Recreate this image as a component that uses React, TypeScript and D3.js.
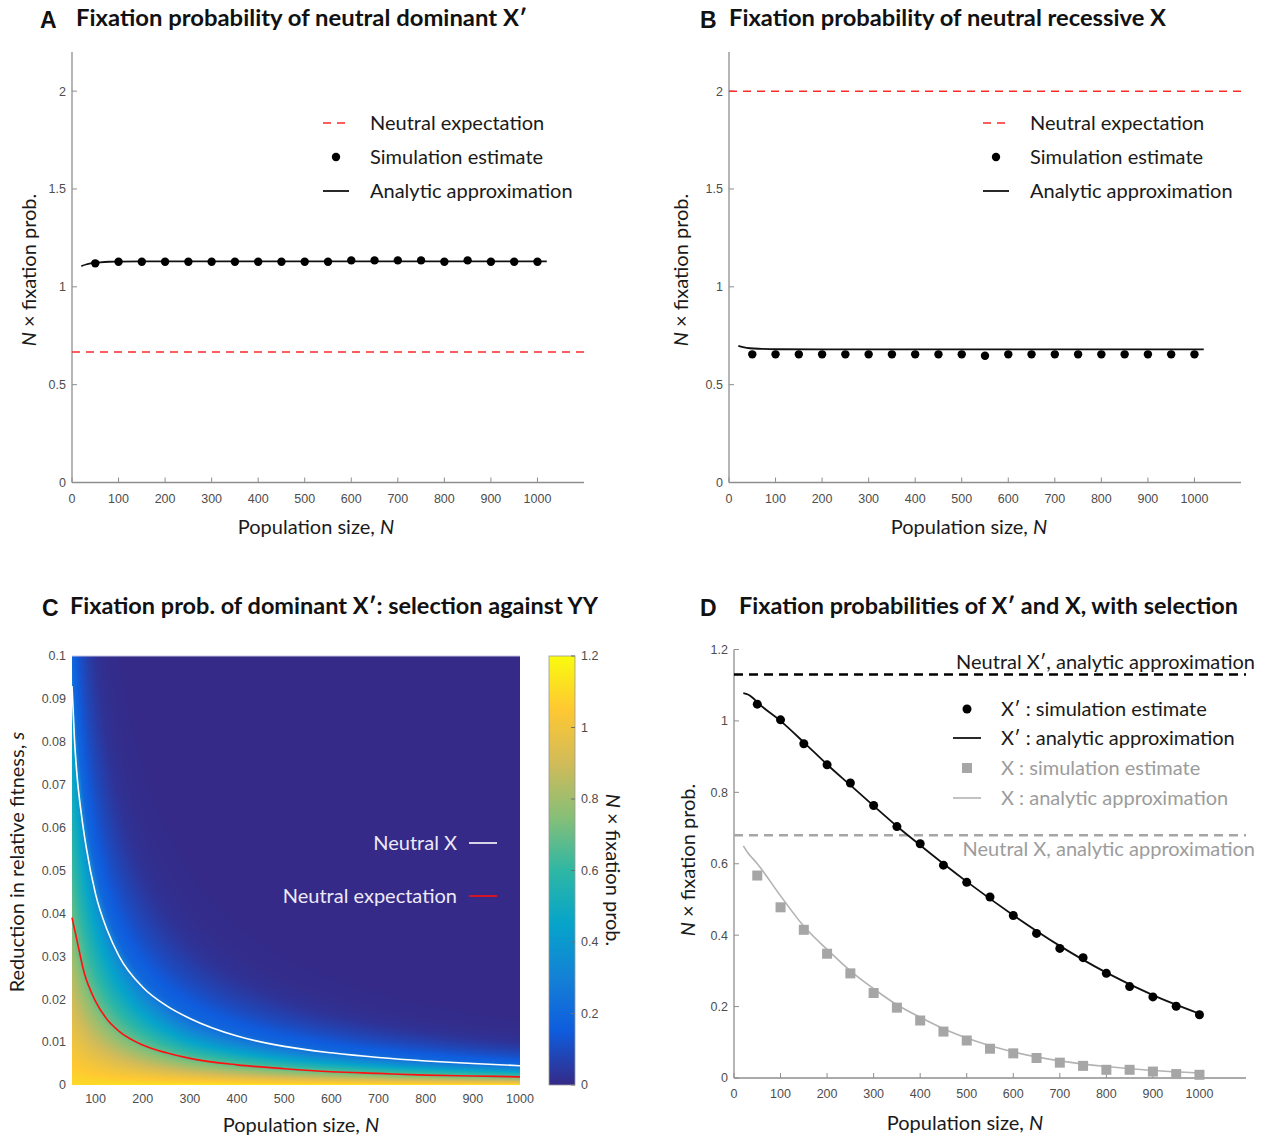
import { useEffect, useRef } from "react";
import * as d3 from "d3";

// population sizes where the simulations were run
const popSizes = [50, 100, 150, 200, 250, 300, 350, 400, 450, 500, 550, 600, 650, 700, 750, 800, 850, 900, 950, 1000];

// A: neutral dominant X'
const aSimEstimate = [1.12, 1.128, 1.128, 1.128, 1.128, 1.128, 1.128, 1.128, 1.128, 1.128, 1.128, 1.135, 1.135, 1.135, 1.135, 1.128, 1.135, 1.128, 1.128, 1.128];
const aApproxN = [20, 30, 40, 60, 80, 100, 150, 300, 1020];
const aApproxValue = [1.106, 1.114, 1.12, 1.125, 1.128, 1.129, 1.13, 1.13, 1.13];
const aNeutral = 0.667;

// B: neutral recessive X
const bSimEstimate = [0.655, 0.655, 0.655, 0.655, 0.655, 0.655, 0.655, 0.655, 0.655, 0.655, 0.648, 0.655, 0.655, 0.655, 0.655, 0.655, 0.655, 0.655, 0.655, 0.655];
const bApproxN = [20, 30, 45, 70, 100, 200, 1020];
const bApproxValue = [0.698, 0.692, 0.686, 0.683, 0.681, 0.68, 0.68];
const bNeutral = 2;

// C: colour value (N x fixation prob.) read against N*s, at small N and at large N
const heatNs = [0, 0.25, 0.5, 1, 1.5, 2, 2.5, 3, 3.5, 4, 4.5, 5, 6, 7, 8, 9, 10, 12, 16];
const heatValueSmallN = [1.1, 1.05, 1.0, 0.9, 0.8, 0.7, 0.63, 0.56, 0.5, 0.44, 0.36, 0.2, 0.14, 0.1, 0.07, 0.045, 0.025, 0.01, 0];
const heatValueLargeN = [1.13, 1.06, 1.0, 0.878, 0.762, 0.652, 0.55, 0.456, 0.37, 0.295, 0.232, 0.18, 0.14, 0.1, 0.07, 0.045, 0.025, 0.01, 0];
const heatBlendN = [50, 300];
// contours drawn on top of the heat map
const neutralXN = [50, 55, 60, 70, 80, 100, 125, 150, 200, 250, 300, 400, 500, 600, 700, 800, 900, 1000];
const neutralXS = [0.093, 0.081, 0.073, 0.063, 0.0555, 0.0445, 0.036, 0.03, 0.0228, 0.0185, 0.0155, 0.0114, 0.009, 0.0075, 0.0064, 0.0056, 0.005, 0.0045];
const neutralExpN = [50, 60, 75, 100, 125, 150, 200, 250, 300, 400, 500, 600, 700, 800, 900, 1000];
const neutralExpS = [0.039, 0.034, 0.0265, 0.0195, 0.0152, 0.0125, 0.0093, 0.0075, 0.0062, 0.0047, 0.0038, 0.0031, 0.0027, 0.0023, 0.0021, 0.0019];

// D: with selection
const dXpSim = [1.047, 1.003, 0.936, 0.877, 0.826, 0.763, 0.704, 0.656, 0.596, 0.548, 0.507, 0.455, 0.405, 0.363, 0.337, 0.293, 0.256, 0.227, 0.201, 0.177];
const dXSim = [0.567, 0.478, 0.415, 0.348, 0.293, 0.238, 0.197, 0.161, 0.13, 0.105, 0.082, 0.069, 0.056, 0.043, 0.034, 0.023, 0.023, 0.018, 0.011, 0.009];
const dApproxN = [20, 30, 40, 50, 100, 150, 200, 250, 300, 350, 400, 450, 500, 600, 700, 800, 900, 1000];
const dXpApprox = [1.078, 1.074, 1.065, 1.052, 1.0, 0.94, 0.878, 0.82, 0.762, 0.705, 0.652, 0.6, 0.55, 0.456, 0.37, 0.295, 0.232, 0.18];
const dXApprox = [0.65, 0.63, 0.615, 0.6, 0.51, 0.425, 0.36, 0.3, 0.25, 0.205, 0.17, 0.138, 0.112, 0.073, 0.048, 0.032, 0.021, 0.014];
const dNeutralXp = 1.13;
const dNeutralX = 0.68;

// tick values
const popTicks = [0, 100, 200, 300, 400, 500, 600, 700, 800, 900, 1000];
const popTicksC = [100, 200, 300, 400, 500, 600, 700, 800, 900, 1000];
const abTicks = [0, 0.5, 1, 1.5, 2];
const cTicks = [0, 0.01, 0.02, 0.03, 0.04, 0.05, 0.06, 0.07, 0.08, 0.09, 0.1];
const cbTicks = [0, 0.2, 0.4, 0.6, 0.8, 1, 1.2];
const dTicks = [0, 0.2, 0.4, 0.6, 0.8, 1, 1.2];

const parula = ["#352a87", "#0f5cdd", "#1481d6", "#06a4ca", "#2eb7a4", "#87bf77", "#d1bb59", "#fec832", "#f9fb0e"];

const FONT = "Lato, 'Open Sans', sans-serif";
const TICK_FONT = "'Liberation Sans', Arial, sans-serif";
const AXIS = "#8e8e8e";
const TICK_TXT = "#4d4d4d";
const GREY = "#a6a6a6";
const LABEL_SIZE = 20;
const fmt = d3.format("~g");

function Axes({ x, y, xTicks, yTicks }) {
  const [x0, x1] = x.range();
  const [y0, y1] = y.range();
  return (
    <g fontFamily={TICK_FONT} fontSize={12.5} fill={TICK_TXT}>
      <line x1={x0} x2={x1} y1={y0} y2={y0} stroke={AXIS} strokeWidth={1.3} />
      <line x1={x0} x2={x0} y1={y0} y2={y1} stroke={AXIS} strokeWidth={1.3} />
      {xTicks.map((t) => (
        <g key={t}>
          <line x1={x(t)} x2={x(t)} y1={y0} y2={y0 - 5} stroke={AXIS} />
          <text x={x(t)} y={y0 + 20} textAnchor="middle">{t}</text>
        </g>
      ))}
      {yTicks.map((t) => (
        <g key={t}>
          <line x1={x0} x2={x0 + 5} y1={y(t)} y2={y(t)} stroke={AXIS} />
          <text x={x0 - 6} y={y(t)} dy="0.35em" textAnchor="end">{fmt(t)}</text>
        </g>
      ))}
    </g>
  );
}

function Title({ letter, lx, tx, y, text, width }) {
  return (
    <g fill="#111">
      <text x={lx} y={y + 2} fontFamily="'Liberation Sans', Arial, sans-serif" fontWeight="bold" fontSize={23}>{letter}</text>
      <text x={tx} y={y} fontFamily={FONT} fontWeight="bold" fontSize={22} textLength={width} lengthAdjust="spacingAndGlyphs">{text}</text>
    </g>
  );
}

function NLabel({ cx, cy, rot, text = " × fixation prob." }) {
  return (
    <text transform={`translate(${cx},${cy}) rotate(${rot})`} textAnchor="middle" dominantBaseline="central" fontFamily={FONT} fontSize={LABEL_SIZE} fill="#1a1a1a">
      <tspan fontStyle="italic">N</tspan>{text}
    </text>
  );
}

function PopLabel({ cx, y }) {
  return (
    <text x={cx} y={y} textAnchor="middle" fontFamily={FONT} fontSize={LABEL_SIZE} fill="#1a1a1a">
      Population size, <tspan fontStyle="italic">N</tspan>
    </text>
  );
}

export default function App() {
  const heatRef = useRef(null);

  const xA = d3.scaleLinear().domain([0, 1100]).range([72, 584]);
  const yA = d3.scaleLinear().domain([0, 2.2]).range([482.5, 52]);
  const xB = d3.scaleLinear().domain([0, 1100]).range([729, 1241]);
  const yB = yA;
  const xC = d3.scaleLinear().domain([50, 1000]).range([72, 520]);
  const yC = d3.scaleLinear().domain([0, 0.1]).range([1085, 656]);
  const yCb = d3.scaleLinear().domain([0, 1.2]).range([1085, 656]);
  const xD = d3.scaleLinear().domain([0, 1100]).range([734, 1246]);
  const yD = d3.scaleLinear().domain([0, 1.2]).range([1078, 649.5]);

  const parulaColor = d3
    .scaleLinear()
    .domain(parula.map((_, i) => (1.2 * i) / (parula.length - 1)))
    .range(parula)
    .clamp(true);

  useEffect(() => {
    const [x0, x1] = xC.range();
    const [yb, yt] = yC.range();
    const w = Math.round(x1 - x0);
    const h = Math.round(yb - yt);
    const canvas = document.createElement("canvas");
    canvas.width = w;
    canvas.height = h;
    const ctx = canvas.getContext("2d");
    const img = ctx.createImageData(w, h);
    const small = d3.scaleLinear().domain(heatNs).range(heatValueSmallN).clamp(true);
    const large = d3.scaleLinear().domain(heatNs).range(heatValueLargeN).clamp(true);
    const blend = d3.scaleLinear().domain(heatBlendN).range([0, 1]).clamp(true);
    // colour lookup table
    const lut = d3.range(512).map((i) => d3.rgb(parulaColor((1.2 * i) / 511)));
    for (let j = 0; j < h; j++) {
      const s = yC.invert(yt + j + 0.5);
      for (let i = 0; i < w; i++) {
        const n = xC.invert(x0 + i + 0.5);
        const t = blend(n);
        const v = (1 - t) * small(n * s) + t * large(n * s);
        const c = lut[Math.max(0, Math.min(511, Math.round((v / 1.2) * 511)))];
        const k = (j * w + i) * 4;
        img.data[k] = c.r;
        img.data[k + 1] = c.g;
        img.data[k + 2] = c.b;
        img.data[k + 3] = 255;
      }
    }
    ctx.putImageData(img, 0, 0);
    d3.select(heatRef.current).attr("href", canvas.toDataURL());
  }, []);

  const lineA = d3.line().x((d) => xA(d[0])).y((d) => yA(d[1])).curve(d3.curveMonotoneX);
  const lineB = d3.line().x((d) => xB(d[0])).y((d) => yB(d[1])).curve(d3.curveMonotoneX);
  const lineC = d3.line().x((d) => xC(d[0])).y((d) => yC(d[1])).curve(d3.curveMonotoneX);
  const lineD = d3.line().x((d) => xD(d[0])).y((d) => yD(d[1])).curve(d3.curveMonotoneX);

  return (
    <svg width={1268} height={1137} style={{ position: "absolute", left: 0, top: 0, background: "#fff" }}>
      <defs>
        <linearGradient id="parulaBar" x1="0" y1="1" x2="0" y2="0">
          {parula.map((c, i) => (
            <stop key={i} offset={i / (parula.length - 1)} stopColor={c} />
          ))}
        </linearGradient>
      </defs>

      {/* ---------- A ---------- */}
      <Title letter="A" lx={40} tx={76} y={26} text="Fixation probability of neutral dominant X′" width={451} />
      <Axes x={xA} y={yA} xTicks={popTicks} yTicks={abTicks} />
      <line x1={xA(0)} x2={xA(1100)} y1={yA(aNeutral)} y2={yA(aNeutral)} stroke="#ff2a2a" strokeWidth={1.5} strokeDasharray="8,6" />
      <path d={lineA(aApproxN.map((n, i) => [n, aApproxValue[i]]))} fill="none" stroke="#111" strokeWidth={1.8} />
      {popSizes.map((n, i) => (
        <circle key={n} cx={xA(n)} cy={yA(aSimEstimate[i])} r={4.2} fill="#000" />
      ))}
      <g fontFamily={FONT} fontSize={LABEL_SIZE} fill="#1a1a1a">
        <line x1={323} x2={349} y1={123} y2={123} stroke="#ff2a2a" strokeWidth={1.5} strokeDasharray="8,6" />
        <text x={370} y={123} dy="0.35em">Neutral expectation</text>
        <circle cx={336} cy={157} r={4.2} fill="#000" />
        <text x={370} y={157} dy="0.35em">Simulation estimate</text>
        <line x1={323} x2={349} y1={191} y2={191} stroke="#111" strokeWidth={1.8} />
        <text x={370} y={191} dy="0.35em">Analytic approximation</text>
      </g>
      <NLabel cx={28} cy={270} rot={-90} />
      <PopLabel cx={316} y={534} />

      {/* ---------- B ---------- */}
      <Title letter="B" lx={700} tx={729} y={26} text="Fixation probability of neutral recessive X" width={437} />
      <Axes x={xB} y={yB} xTicks={popTicks} yTicks={abTicks} />
      <line x1={xB(0)} x2={xB(1100)} y1={yB(bNeutral)} y2={yB(bNeutral)} stroke="#ff2a2a" strokeWidth={1.5} strokeDasharray="8,6" />
      <path d={lineB(bApproxN.map((n, i) => [n, bApproxValue[i]]))} fill="none" stroke="#111" strokeWidth={1.8} />
      {popSizes.map((n, i) => (
        <circle key={n} cx={xB(n)} cy={yB(bSimEstimate[i])} r={4.2} fill="#000" />
      ))}
      <g fontFamily={FONT} fontSize={LABEL_SIZE} fill="#1a1a1a">
        <line x1={983} x2={1009} y1={123} y2={123} stroke="#ff2a2a" strokeWidth={1.5} strokeDasharray="8,6" />
        <text x={1030} y={123} dy="0.35em">Neutral expectation</text>
        <circle cx={996} cy={157} r={4.2} fill="#000" />
        <text x={1030} y={157} dy="0.35em">Simulation estimate</text>
        <line x1={983} x2={1009} y1={191} y2={191} stroke="#111" strokeWidth={1.8} />
        <text x={1030} y={191} dy="0.35em">Analytic approximation</text>
      </g>
      <NLabel cx={680} cy={270} rot={-90} />
      <PopLabel cx={969} y={534} />

      {/* ---------- C ---------- */}
      <Title letter="C" lx={42} tx={70} y={614} text="Fixation prob. of dominant X′: selection against YY" width={528} />
      <image ref={heatRef} x={xC.range()[0]} y={yC.range()[1]} width={xC.range()[1] - xC.range()[0]} height={yC.range()[0] - yC.range()[1]} preserveAspectRatio="none" />
      <line x1={xC(50)} x2={xC(1000)} y1={yC(0.1)} y2={yC(0.1)} stroke="#c9c6e4" strokeWidth={1} />
      <path d={lineC(neutralXN.map((n, i) => [n, neutralXS[i]]))} fill="none" stroke="#ffffff" strokeWidth={1.6} />
      <path d={lineC(neutralExpN.map((n, i) => [n, neutralExpS[i]]))} fill="none" stroke="#ff1010" strokeWidth={1.6} />
      <g fontFamily={TICK_FONT} fontSize={12.5} fill={TICK_TXT}>
        {popTicksC.map((t) => (
          <text key={t} x={xC(t)} y={yC(0) + 18} textAnchor="middle">{t}</text>
        ))}
        {cTicks.map((t) => (
          <text key={t} x={66} y={yC(t)} dy="0.35em" textAnchor="end">{fmt(t)}</text>
        ))}
      </g>
      <g fontFamily={FONT} fontSize={LABEL_SIZE} fill="#ece9f7">
        <text x={457} y={843} dy="0.35em" textAnchor="end">Neutral X</text>
        <line x1={469} x2={497} y1={843} y2={843} stroke="#ffffff" strokeWidth={1.6} />
        <text x={457} y={896} dy="0.35em" textAnchor="end">Neutral expectation</text>
        <line x1={469} x2={497} y1={896} y2={896} stroke="#ff1010" strokeWidth={1.6} />
      </g>
      <rect x={549} y={yCb(1.2)} width={26} height={yCb(0) - yCb(1.2)} fill="url(#parulaBar)" stroke="#9a9a9a" strokeWidth={0.8} />
      <g fontFamily={TICK_FONT} fontSize={12.5} fill={TICK_TXT}>
        {cbTicks.map((t) => (
          <g key={t}>
            <line x1={571} x2={575} y1={yCb(t)} y2={yCb(t)} stroke="#6e6e6e" />
            <text x={581} y={yCb(t)} dy="0.35em">{fmt(t)}</text>
          </g>
        ))}
      </g>
      <NLabel cx={614} cy={870} rot={90} />
      <text transform="translate(16,862) rotate(-90)" textAnchor="middle" dominantBaseline="central" fontFamily={FONT} fontSize={LABEL_SIZE} fill="#1a1a1a">
        Reduction in relative fitness, <tspan fontStyle="italic">s</tspan>
      </text>
      <PopLabel cx={301} y={1132} />

      {/* ---------- D ---------- */}
      <Title letter="D" lx={700} tx={739} y={614} text="Fixation probabilities of X′ and X, with selection" width={499} />
      <Axes x={xD} y={yD} xTicks={popTicks} yTicks={dTicks} />
      <line x1={xD(0)} x2={xD(1100)} y1={yD(dNeutralXp)} y2={yD(dNeutralXp)} stroke="#000" strokeWidth={2.6} strokeDasharray="9,6" />
      <line x1={xD(0)} x2={xD(1100)} y1={yD(dNeutralX)} y2={yD(dNeutralX)} stroke={GREY} strokeWidth={2.6} strokeDasharray="9,6" />
      <path d={lineD(dApproxN.map((n, i) => [n, dXApprox[i]]))} fill="none" stroke="#b3b3b3" strokeWidth={1.6} />
      {popSizes.map((n, i) => (
        <rect key={n} x={xD(n) - 5} y={yD(dXSim[i]) - 5} width={10} height={10} fill={GREY} />
      ))}
      <path d={lineD(dApproxN.map((n, i) => [n, dXpApprox[i]]))} fill="none" stroke="#111" strokeWidth={1.8} />
      {popSizes.map((n, i) => (
        <circle key={n} cx={xD(n)} cy={yD(dXpSim[i])} r={4.5} fill="#000" />
      ))}
      <g fontFamily={FONT} fontSize={LABEL_SIZE}>
        <text x={1255} y={662} dy="0.35em" textAnchor="end" fill="#1a1a1a">Neutral X′, analytic approximation</text>
        <text x={1255} y={849} dy="0.35em" textAnchor="end" fill="#9c9c9c">Neutral X, analytic approximation</text>
        <circle cx={967} cy={709} r={4.5} fill="#000" />
        <text x={1001} y={709} dy="0.35em" fill="#1a1a1a">X′ : simulation estimate</text>
        <line x1={953} x2={981} y1={738} y2={738} stroke="#111" strokeWidth={1.8} />
        <text x={1001} y={738} dy="0.35em" fill="#1a1a1a">X′ : analytic approximation</text>
        <rect x={962} y={763} width={10} height={10} fill={GREY} />
        <text x={1001} y={768} dy="0.35em" fill="#9c9c9c">X : simulation estimate</text>
        <line x1={953} x2={981} y1={798} y2={798} stroke="#b3b3b3" strokeWidth={1.6} />
        <text x={1001} y={798} dy="0.35em" fill="#9c9c9c">X : analytic approximation</text>
      </g>
      <NLabel cx={687} cy={860} rot={-90} />
      <PopLabel cx={965} y={1130} />
    </svg>
  );
}
